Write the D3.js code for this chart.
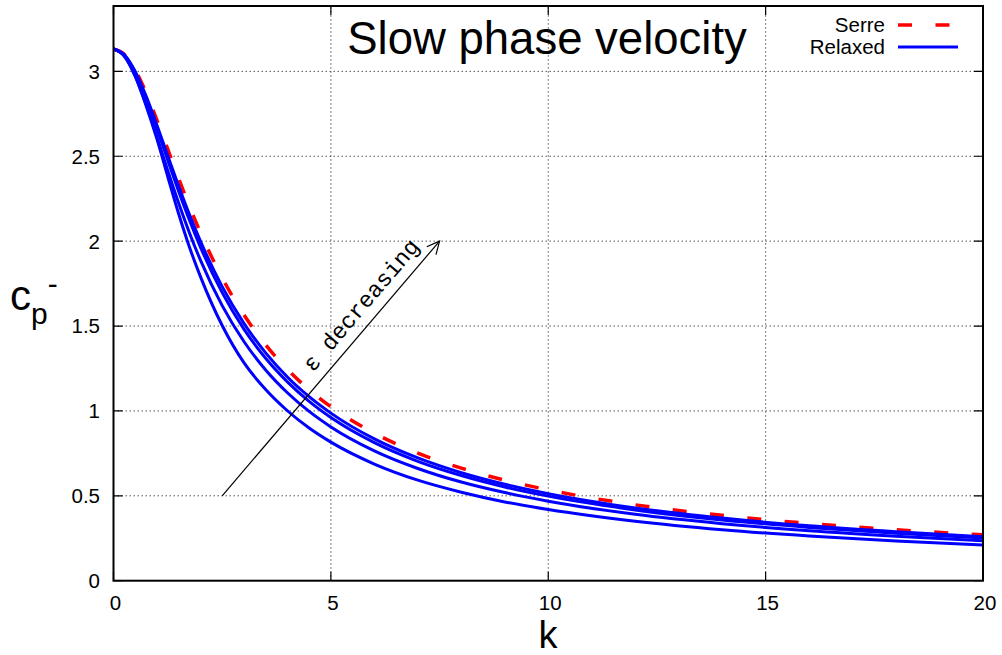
<!DOCTYPE html>
<html>
<head>
<meta charset="utf-8">
<script src="https://cdn.jsdelivr.net/npm/d3@7"></script>
<style>
  body { margin: 0; background: #fff; }
  svg { display: block; font-family: "Liberation Sans", Arial, sans-serif; }
</style>
</head>
<body>
<div id="chart"></div>
<script>
const kValues = [0, 0.25, 0.5, 0.75, 1, 1.25, 1.5, 1.75, 2, 2.5, 3, 3.5, 4, 4.5, 5,
                 6, 7, 8, 9, 10, 12, 14, 16, 18, 20];

// Serre (red dashed)
const serre = [3.132, 3.100, 3.009, 2.874, 2.712, 2.540, 2.368, 2.203, 2.050, 1.784, 1.566,
               1.389, 1.245, 1.125, 1.025, 0.869, 0.752, 0.663, 0.592, 0.535, 0.447,
               0.385, 0.337, 0.300, 0.270];

// Relaxed curves, largest epsilon first (lowest curve)
const relaxed1 = [3.132, 3.089, 2.970, 2.798, 2.601, 2.378, 2.160, 1.963, 1.791, 1.503, 1.284,
                  1.126, 1.001, 0.899, 0.816, 0.687, 0.592, 0.521, 0.464, 0.419, 0.350,
                  0.300, 0.263, 0.234, 0.211];
const relaxed2 = [3.132, 3.090, 2.974, 2.806, 2.612, 2.413, 2.223, 2.047, 1.888, 1.620, 1.409,
                  1.241, 1.107, 0.997, 0.906, 0.765, 0.661, 0.581, 0.519, 0.468, 0.391,
                  0.336, 0.294, 0.262, 0.236];
const relaxed3 = [3.132, 3.095, 2.991, 2.840, 2.661, 2.475, 2.293, 2.122, 1.965, 1.697, 1.482,
                  1.310, 1.171, 1.056, 0.961, 0.813, 0.703, 0.619, 0.552, 0.498, 0.417,
                  0.358, 0.314, 0.279, 0.252];
const relaxed4 = [3.132, 3.097, 2.999, 2.854, 2.683, 2.502, 2.324, 2.155, 2.000, 1.732, 1.516,
                  1.342, 1.200, 1.084, 0.987, 0.835, 0.723, 0.636, 0.568, 0.513, 0.429,
                  0.369, 0.323, 0.288, 0.259];
const relaxedSeries = [relaxed1, relaxed2, relaxed3, relaxed4];

const xTicks = [0, 5, 10, 15, 20];
const yTicks = [0, 0.5, 1, 1.5, 2, 2.5, 3];

// arrow "epsilon decreasing", in data coordinates
const arrowFrom = [2.5, 0.5];
const arrowTo = [7.5, 2.0];

// Setup
const width = 1002;
const height = 655;
const margin = {left: 113.5, right: 19, top: 6, bottom: 74.3};

const svg = d3.select("#chart")
  .append("svg")
  .attr("width", width)
  .attr("height", height);

const x = d3.scaleLinear()
  .domain([0, 20])
  .range([margin.left, width - margin.right]);

const y = d3.scaleLinear()
  .domain([0, 3.385])
  .range([height - margin.bottom, margin.top]);

const x0 = x.range()[0], x1 = x.range()[1];
const y0 = y.range()[0], y1 = y.range()[1];

svg.append("clipPath").attr("id", "plotArea")
  .append("rect")
  .attr("x", x0).attr("y", y1)
  .attr("width", x1 - x0).attr("height", y0 - y1);

// grid
const grid = svg.append("g")
  .attr("stroke", "#555")
  .attr("stroke-width", 1)
  .attr("stroke-dasharray", "1.5 2.5");

grid.selectAll(".vgrid")
  .data(xTicks.slice(1, -1))
  .enter().append("line")
  .attr("x1", d => x(d)).attr("x2", d => x(d))
  .attr("y1", y0).attr("y2", y1);

grid.selectAll(".hgrid")
  .data(yTicks.slice(1))
  .enter().append("line")
  .attr("x1", x0).attr("x2", x1)
  .attr("y1", d => y(d)).attr("y2", d => y(d));

// curves
const line = d3.line()
  .x((d, i) => x(kValues[i]))
  .y(d => y(d))
  .curve(d3.curveMonotoneX);

const curves = svg.append("g").attr("clip-path", "url(#plotArea)");

curves.append("path")
  .attr("d", line(serre))
  .attr("fill", "none")
  .attr("stroke", "#ff0000")
  .attr("stroke-width", 3.5)
  .attr("stroke-dasharray", "14 23.5");

curves.selectAll(".relaxed")
  .data(relaxedSeries)
  .enter().append("path")
  .attr("d", d => line(d))
  .attr("fill", "none")
  .attr("stroke", "#0000ff")
  .attr("stroke-width", 3);

// arrow
const ax0 = x(arrowFrom[0]), ay0 = y(arrowFrom[1]);
const ax1 = x(arrowTo[0]), ay1 = y(arrowTo[1]);
const ang = Math.atan2(ay1 - ay0, ax1 - ax0);
const headLen = 14, headAng = Math.PI / 7;

svg.append("line")
  .attr("x1", ax0).attr("y1", ay0)
  .attr("x2", ax1).attr("y2", ay1)
  .attr("stroke", "#000").attr("stroke-width", 1.2);

svg.append("path")
  .attr("d", `M${ax1 - headLen * Math.cos(ang - headAng)},${ay1 - headLen * Math.sin(ang - headAng)}` +
             `L${ax1},${ay1}` +
             `L${ax1 - headLen * Math.cos(ang + headAng)},${ay1 - headLen * Math.sin(ang + headAng)}`)
  .attr("fill", "none")
  .attr("stroke", "#000").attr("stroke-width", 1.2);

svg.append("text")
  .attr("transform", `translate(313,373) rotate(${ang * 180 / Math.PI})`)
  .attr("font-family", "'Liberation Mono', 'DejaVu Sans Mono', monospace")
  .attr("font-size", 23)
  .attr("fill", "#000")
  .text("\u03b5 decreasing");

// frame and ticks
const axes = svg.append("g").attr("stroke", "#000");

axes.append("rect")
  .attr("x", x0).attr("y", y1)
  .attr("width", x1 - x0).attr("height", y0 - y1)
  .attr("fill", "none")
  .attr("stroke-width", 2);

const tickLen = 9;
axes.selectAll(".yt")
  .data(yTicks)
  .enter().append("path")
  .attr("stroke-width", 1.2)
  .attr("d", d => `M${x0},${y(d)}h${tickLen}M${x1},${y(d)}h${-tickLen}`);

axes.selectAll(".xt")
  .data(xTicks)
  .enter().append("path")
  .attr("stroke-width", 1.2)
  .attr("d", d => `M${x(d)},${y0}v${-tickLen}M${x(d)},${y1}v${tickLen}`);

// tick labels
svg.selectAll(".ylab")
  .data(yTicks)
  .enter().append("text")
  .attr("x", 100)
  .attr("y", d => y(d))
  .attr("dy", "0.36em")
  .attr("text-anchor", "end")
  .attr("font-size", 20.5)
  .text(d => d3.format("")(d));

svg.selectAll(".xlab")
  .data(xTicks)
  .enter().append("text")
  .attr("x", d => x(d) + 2)
  .attr("y", 610)
  .attr("text-anchor", "middle")
  .attr("font-size", 20.5)
  .text(d => d);

// title
svg.append("text")
  .attr("x", 547)
  .attr("y", 54)
  .attr("text-anchor", "middle")
  .attr("font-size", 45.5)
  .text("Slow phase velocity");

// axis labels
svg.append("text")
  .attr("x", 548)
  .attr("y", 648)
  .attr("text-anchor", "middle")
  .attr("font-size", 38)
  .text("k");

const ylab = svg.append("text")
  .attr("x", 10)
  .attr("y", 310)
  .attr("font-size", 42);
ylab.append("tspan").text("c");
ylab.append("tspan").attr("font-size", 30).attr("dy", 14).text("p");
ylab.append("tspan").attr("font-size", 30).attr("dy", -30).text("-");

// legend
const legendItems = [
  {name: "Serre", color: "#ff0000", dash: "14 23.5", width: 3.5, y: 25},
  {name: "Relaxed", color: "#0000ff", dash: null, width: 3, y: 47}
];

const legend = svg.selectAll(".legend")
  .data(legendItems)
  .enter().append("g");

legend.append("text")
  .attr("x", 885)
  .attr("y", d => d.y)
  .attr("dy", "0.36em")
  .attr("text-anchor", "end")
  .attr("font-size", 20.5)
  .text(d => d.name);

legend.append("line")
  .attr("x1", 898).attr("x2", 958)
  .attr("y1", d => d.y).attr("y2", d => d.y)
  .attr("stroke", d => d.color)
  .attr("stroke-width", d => d.width)
  .attr("stroke-dasharray", d => d.dash);
</script>
</body>
</html>
